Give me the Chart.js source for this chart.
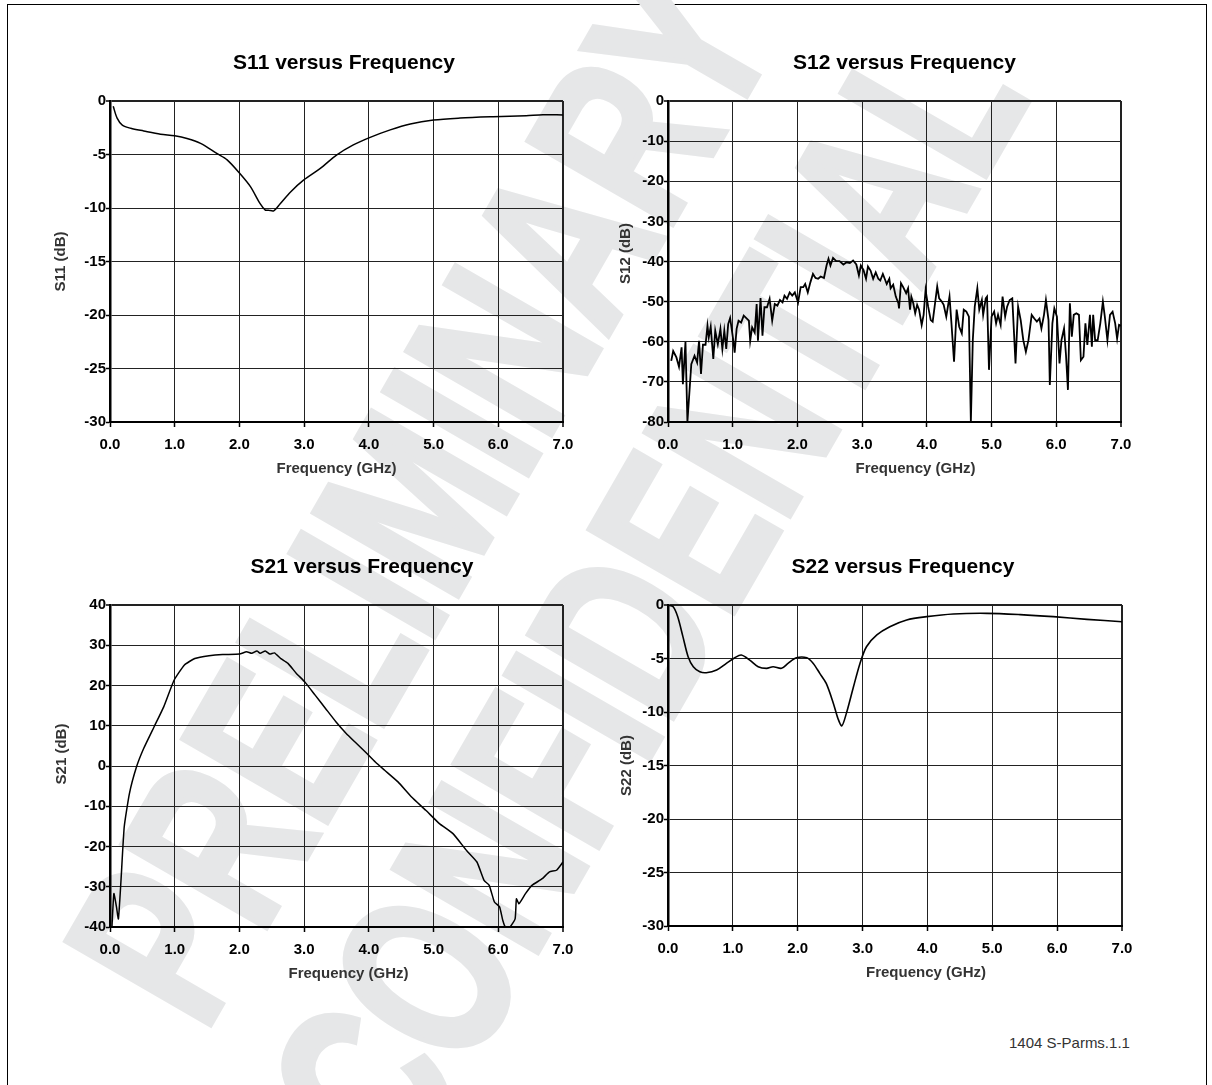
<!DOCTYPE html>
<html>
<head>
<meta charset="utf-8">
<title>S-Parameters</title>
<script src="https://cdn.jsdelivr.net/npm/chart.js@4.4.1/dist/chart.umd.min.js"></script>
<style>
  html, body { margin: 0; padding: 0; background: #fff; }
  body { width: 1212px; height: 1085px; position: relative; overflow: hidden; font-family: "Liberation Sans", Arial, sans-serif; }
  .frame { position: absolute; left: 7px; top: 4px; width: 1200px; height: 1100px; border: 1.5px solid #000; box-sizing: border-box; }
  .wm { position: absolute; white-space: nowrap; font-weight: bold; color: #e6e7e8; -webkit-text-stroke: 7px #e6e7e8; font-size: 240px; line-height: 1; transform: translate(-50%, -50%) rotate(-60deg) scaleX(0.7); }
  canvas { position: absolute; }
  .note { position: absolute; left: 1009px; top: 1034px; font-size: 15px; color: #333; }
</style>
</head>
<body>
<div class="frame"></div>
<div class="wm" style="left:420px; top:494px;">PRELIMINARY</div>
<div class="wm" style="left:646px; top:597px;">CONFIDENTIAL</div>
<canvas id="s11"></canvas>
<canvas id="s12"></canvas>
<canvas id="s21"></canvas>
<canvas id="s22"></canvas>
<div class="note">1404 S-Parms.1.1</div>
<script>
// Frequency axis (GHz)
const freqTicks = [0, 1, 2, 3, 4, 5, 6, 7];

// S11 (dB)
const s11Ticks = [0, -5, -10, -15, -20, -25, -30];
const s11Freq = [0.05, 0.11, 0.19, 0.32, 0.52, 0.78, 1.0, 1.19, 1.40, 1.65, 1.81, 2.01, 2.17, 2.32, 2.40, 2.45, 2.53, 2.63, 2.79, 2.99, 3.25, 3.50, 3.76, 4.02, 4.33, 4.64, 5.0, 5.41, 5.92, 6.43, 6.69, 7.0];
const s11Db = [-0.5, -1.6, -2.25, -2.55, -2.8, -3.1, -3.25, -3.5, -3.96, -4.9, -5.5, -6.8, -8.0, -9.6, -10.2, -10.2, -10.26, -9.6, -8.5, -7.4, -6.3, -5.05, -4.1, -3.4, -2.7, -2.15, -1.78, -1.6, -1.47, -1.37, -1.28, -1.31];

// S12 (dB)
const s12Ticks = [0, -10, -20, -30, -40, -50, -60, -70, -80];
const s12Freq = [0.05, 0.08, 0.13, 0.17, 0.21, 0.23, 0.27, 0.30, 0.36, 0.41, 0.45, 0.48, 0.51, 0.54, 0.58, 0.61, 0.63, 0.66, 0.70, 0.73,
  0.77, 0.81, 0.84, 0.87, 0.90, 0.93, 0.96, 1.01, 1.03, 1.06, 1.09, 1.13, 1.17, 1.21, 1.25, 1.27, 1.30, 1.34, 1.37, 1.39,
  1.43, 1.46, 1.49, 1.53, 1.57, 1.61, 1.65, 1.69, 1.73, 1.77, 1.80, 1.84, 1.88, 1.92, 1.96, 2.01, 2.05, 2.09, 2.12, 2.16,
  2.20, 2.24, 2.28, 2.32, 2.36, 2.41, 2.45, 2.48, 2.51, 2.55, 2.60, 2.65, 2.71, 2.76, 2.81, 2.86, 2.91, 2.95, 2.98, 3.02,
  3.06, 3.09, 3.13, 3.17, 3.21, 3.25, 3.28, 3.32, 3.38, 3.42, 3.44, 3.48, 3.52, 3.56, 3.57, 3.60, 3.63, 3.68, 3.71, 3.74,
  3.76, 3.79, 3.82, 3.85, 3.88, 3.92, 3.95, 3.98, 4.02, 4.06, 4.09, 4.12, 4.16, 4.19, 4.23, 4.26, 4.30, 4.35, 4.38, 4.42,
  4.46, 4.50, 4.54, 4.57, 4.61, 4.65, 4.68, 4.71, 4.74, 4.78, 4.81, 4.85, 4.87, 4.91, 4.93, 4.96, 5.0, 5.04, 5.07, 5.10,
  5.14, 5.17, 5.21, 5.24, 5.28, 5.32, 5.37, 5.41, 5.45, 5.49, 5.53, 5.57, 5.62, 5.66, 5.70, 5.74, 5.77, 5.81, 5.84, 5.88,
  5.90, 5.94, 5.97, 6.01, 6.05, 6.08, 6.12, 6.15, 6.18, 6.21, 6.24, 6.27, 6.31, 6.35, 6.38, 6.42, 6.45, 6.48, 6.52, 6.55,
  6.57, 6.60, 6.64, 6.68, 6.72, 6.75, 6.79, 6.83, 6.87, 6.91, 6.94, 6.97, 7.0];
const s12Db = [-64.75, -62.3, -63.9, -66.25, -61.4, -70.6, -60, -80, -65.6, -63.5, -65.2, -59.75, -68, -60.75, -60.75, -56, -58.9, -56.25, -64.3, -57.25,
  -60.6, -56.8, -61.8, -57.25, -61.8, -55.6, -54.1, -59.75, -62.7, -56.8, -54.75, -55.2, -53.5, -54.1, -54.75, -59.75, -56.4, -57.7, -50.6, -59.75,
  -49.1, -58.5, -51.4, -51.4, -49.3, -54.75, -50.6, -51, -49.6, -50.2, -48.5, -49.3, -47.7, -48.5, -47.7, -50.2, -46.4, -46.4, -45.6, -47.7,
  -45.2, -43.1, -44.1, -44.3, -43.75, -44.1, -41, -39.3, -41, -39.1, -39.9, -39.9, -40.75, -40.2, -40.4, -39.75, -40.75, -43.5, -41, -42.1,
  -44.3, -41.25, -42.25, -44.3, -42.7, -44.3, -44.75, -43.1, -45.6, -44.3, -46.7, -45.8, -48.75, -50.4, -51.7, -45.4, -46.25, -47.9, -46.7, -52,
  -48.75, -50.4, -52.9, -50.8, -52, -55.8, -53.3, -47.1, -51.25, -54.6, -55, -51.25, -46.25, -49.2, -50, -50.8, -53.75, -48.75, -55.4, -65,
  -52, -56.25, -57.9, -52, -52.5, -53.75, -80, -59.6, -51.25, -46.7, -52, -49.6, -53.3, -49.2, -48.75, -67, -53.75, -52.5, -55.4, -53.3,
  -55.8, -48.75, -53.75, -51.25, -49.6, -49.2, -65.4, -51.25, -54.6, -59.6, -62.5, -59.6, -53.3, -54.2, -55, -54.2, -56.7, -53.3, -49.6, -54.6,
  -70.8, -55.4, -51.7, -53.75, -65.4, -59.6, -56.7, -63.3, -72, -50.4, -58.75, -53.3, -52.9, -53.3, -64.6, -63.75, -55.4, -60.8, -53.3, -61.25,
  -53.3, -59.6, -59.6, -55.4, -50, -53.75, -59.6, -53.3, -52.5, -55.4, -59.2, -55.8, -56];

// S21 (dB)
const s21Ticks = [40, 30, 20, 10, 0, -10, -20, -30, -40];
const s21Freq = [0.03, 0.06, 0.10, 0.13, 0.17, 0.22, 0.30, 0.41, 0.52, 0.68, 0.83, 0.99, 1.15, 1.31, 1.53, 1.74, 2.0, 2.11, 2.19, 2.27,
  2.32, 2.40, 2.47, 2.54, 2.64, 2.75, 2.88, 3.01, 3.17, 3.33, 3.49, 3.65, 3.81, 3.97, 4.10, 4.24, 4.45, 4.66, 4.88, 5.09,
  5.30, 5.51, 5.67, 5.78, 5.86, 5.94, 6.02, 6.07, 6.11, 6.18, 6.26, 6.28, 6.32, 6.42, 6.52, 6.68, 6.79, 6.90, 7.0];
const s21Db = [-40, -31.7, -35, -38, -28.4, -15.1, -6.85, -0.2, 4.35, 9.7, 14.7, 21.3, 25.1, 26.7, 27.4, 27.7, 27.8, 28.4, 28, 28.6,
  28, 28.6, 27.8, 28.1, 26.7, 25.5, 23, 20.9, 17.6, 14.3, 11, 8.1, 5.6, 3.1, 1.0, -1.0, -3.95, -7.7, -11, -14.3,
  -16.8, -21, -23.85, -28.4, -29.65, -33.8, -35, -38.4, -40, -40, -38, -33, -34.2, -31.7, -29.65, -28, -26.3, -25.9, -23.85];

// S22 (dB)
const s22Ticks = [0, -5, -10, -15, -20, -25, -30];
const s22Freq = [0, 0.08, 0.15, 0.23, 0.31, 0.39, 0.49, 0.59, 0.75, 0.90, 1.03, 1.13, 1.26, 1.39, 1.52, 1.62, 1.75, 1.85, 1.98, 2.14,
  2.24, 2.34, 2.44, 2.55, 2.62, 2.68, 2.75, 2.86, 2.96, 3.06, 3.22, 3.42, 3.68, 3.99, 4.40, 4.92, 5.43, 5.94, 6.46, 7.0];
const s22Db = [0, -0.16, -1.1, -2.96, -4.83, -5.77, -6.24, -6.33, -6.08, -5.46, -4.93, -4.68, -5.15, -5.77, -5.92, -5.77, -5.92, -5.46, -4.93, -4.93,
  -5.46, -6.39, -7.33, -9.2, -10.6, -11.29, -10.13, -7.64, -5.46, -3.9, -2.8, -2.03, -1.4, -1.09, -0.84, -0.78, -0.9, -1.09, -1.34, -1.56];

const FONT = '"Liberation Sans", Arial, sans-serif';

// axis titles are drawn here so they can sit a little off-centre like the original
const axisTitles = {
  id: 'axisTitles',
  afterDraw(chart, args, opts) {
    const { ctx, chartArea: a } = chart;
    ctx.save();
    ctx.font = 'bold 15px ' + FONT;
    ctx.fillStyle = '#333';
    ctx.textAlign = 'center';
    ctx.textBaseline = 'middle';
    ctx.fillText(opts.xText, (a.left + a.right) / 2 + opts.xShift, a.bottom + 47);
    ctx.translate(a.left - opts.yGap, (a.top + a.bottom) / 2 + opts.yShift);
    ctx.rotate(-Math.PI / 2);
    ctx.fillText(opts.yText, 0, 0);
    ctx.restore();
  }
};

function drawPanel(id, cfg) {
  const el = document.getElementById(id);
  const plotW = cfg.box[2] - cfg.box[0];
  const plotH = cfg.box[3] - cfg.box[1];
  const left = cfg.box[0] - 70;
  const top = cfg.box[1] - 71;
  const width = Math.round(2 * (cfg.titleX - left));
  const height = plotH + 71 + 78;
  const padRight = width - 70 - plotW;
  el.width = width;
  el.height = height;
  el.style.left = left + 'px';
  el.style.top = top + 'px';

  const yMin = Math.min(...cfg.yTicks), yMax = Math.max(...cfg.yTicks);

  new Chart(el, {
    type: 'line',
    data: {
      datasets: [{
        data: cfg.freq.map((f, i) => ({ x: f, y: cfg.db[i] })),
        borderColor: '#000',
        borderWidth: cfg.lineWidth,
        pointRadius: 0,
        tension: cfg.tension,
        fill: false
      }]
    },
    options: {
      responsive: false,
      animation: false,
      layout: { padding: 0 },
      plugins: {
        legend: { display: false },
        tooltip: { enabled: false },
        title: {
          display: true,
          text: cfg.title,
          color: '#000',
          font: { family: FONT, size: 21, weight: 'bold' },
          padding: { top: 20.4, bottom: 25.4 }
        },
        axisTitles: { xText: 'Frequency (GHz)', xShift: cfg.xShift, yText: cfg.yTitle, yGap: cfg.yGap, yShift: cfg.yShift }
      },
      scales: {
        x: {
          type: 'linear',
          min: 0,
          max: 7,
          afterBuildTicks: s => { s.ticks = freqTicks.map(v => ({ value: v })); },
          afterFit: s => { s.height = 78; },
          ticks: {
            color: '#000',
            font: { family: FONT, size: 15, weight: 'bold' },
            padding: 9,
            maxRotation: 0,
            callback: v => v.toFixed(1)
          },
          grid: {
            color: '#222',
            lineWidth: c => (c.tick && c.tick.value === 7 ? 2 : 1),
            tickLength: 5,
            tickColor: '#000',
            tickWidth: 1.5
          },
          border: { display: true, color: '#000', width: 2 }
        },
        y: {
          type: 'linear',
          min: yMin,
          max: yMax,
          afterBuildTicks: s => { s.ticks = cfg.yTicks.slice().reverse().map(v => ({ value: v })); },
          afterFit: s => { s.width = 70; },
          ticks: {
            color: '#000',
            font: { family: FONT, size: 15, weight: 'bold' },
            padding: 0,
            callback: v => String(v)
          },
          grid: {
            color: '#222',
            lineWidth: c => (c.tick && c.tick.value === yMax ? 2 : 1),
            tickLength: 4,
            tickColor: '#000',
            tickWidth: 1.5
          },
          border: { display: true, color: '#000', width: 2.5 }
        },
        // empty right-hand axis: keeps room on the right so the title can centre like the original
        yPad: {
          type: 'linear',
          position: 'right',
          display: true,
          grid: { display: false },
          ticks: { display: false },
          border: { display: false },
          afterFit: s => { s.width = padRight; }
        }
      }
    },
    plugins: [axisTitles]
  });
}

drawPanel('s11', { title: 'S11 versus Frequency', yTitle: 'S11 (dB)', freq: s11Freq, db: s11Db, yTicks: s11Ticks,
  box: [110, 101, 563, 422], titleX: 344, xShift: 0, yGap: 49, yShift: 0, lineWidth: 1.5, tension: 0.3 });
drawPanel('s12', { title: 'S12 versus Frequency', yTitle: 'S12 (dB)', freq: s12Freq, db: s12Db, yTicks: s12Ticks,
  box: [668, 101, 1121, 422], titleX: 904.5, xShift: 21, yGap: 42, yShift: -8, lineWidth: 1.8, tension: 0 });
drawPanel('s21', { title: 'S21 versus Frequency', yTitle: 'S21 (dB)', freq: s21Freq, db: s21Db, yTicks: s21Ticks,
  box: [110, 605, 563, 927], titleX: 362, xShift: 12, yGap: 48, yShift: -12, lineWidth: 1.5, tension: 0.15 });
drawPanel('s22', { title: 'S22 versus Frequency', yTitle: 'S22 (dB)', freq: s22Freq, db: s22Db, yTicks: s22Ticks,
  box: [668, 605, 1122, 926], titleX: 903, xShift: 31, yGap: 41, yShift: 0, lineWidth: 1.6, tension: 0.3 });
</script>
</body>
</html>
